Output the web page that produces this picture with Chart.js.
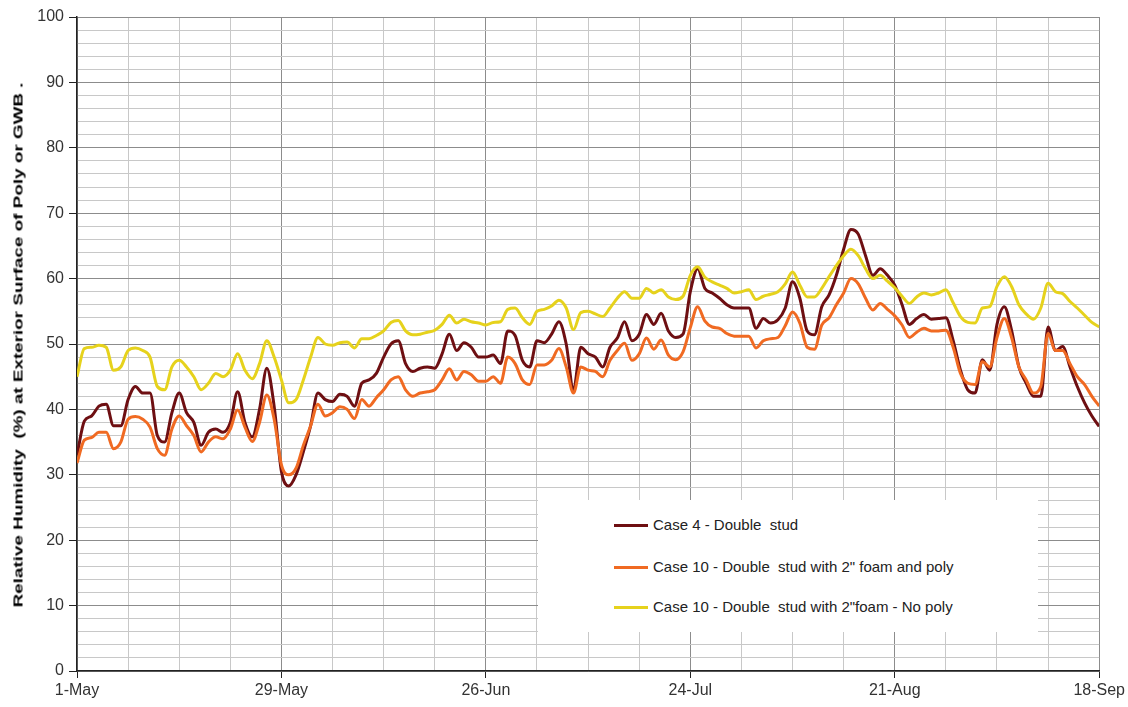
<!DOCTYPE html>
<html>
<head>
<meta charset="utf-8">
<script src="https://cdn.jsdelivr.net/npm/chart.js@4/dist/chart.umd.min.js"></script>
<style>
  body { margin: 0; background: #fff; font-family: "Liberation Sans", Arial, sans-serif; }
  #wrap { position: relative; width: 1128px; height: 707px; }
  #legend {
    position: absolute; left: 538px; top: 500px; width: 500px; height: 132px;
    background: #fff;
  }
  .item { position: absolute; left: 76px; height: 16px; font-size: 15px; color: #222; white-space: pre; }
  .item span.sw { display: inline-block; width: 34px; height: 3px; vertical-align: middle; margin-right: 5px; position: relative; top: -1px; }
  #ytitle {
    position: absolute; left: 18px; top: 345px;
    font-size: 13px; font-weight: bold; color: #000; white-space: pre;
    transform: translate(-50%, -50%) rotate(-90deg) scaleX(1.45);
  }
</style>
</head>
<body>
<div id="wrap">
  <canvas id="chart"></canvas>
  <div id="legend"></div>
  <div id="ytitle">Relative Humidity  (%) at Exterior Surface of Poly or GWB .</div>
</div>
<script>
// day 0 = 1-May, one value per day up to 18-Sep (day 140)
const dateLabels = ['1-May', '29-May', '26-Jun', '24-Jul', '21-Aug', '18-Sep'];

const seriesNames = [
    'Case 4 - Double  stud',
    'Case 10 - Double  stud with 2" foam and poly',
    'Case 10 - Double  stud with 2"foam - No poly'
];

const case4 = [
    33, 38.2, 39, 40.5, 40.8, 37.5, 37.5, 41.5, 43.5, 42.5,
    42.5, 36, 35, 39.5, 42.5, 39.5, 38, 34.5, 36.5, 37,
    36.5, 38, 42.7, 38, 35.8, 40, 46.3, 40.5, 30.5, 28.3,
    30, 33.5, 37.5, 42.5, 41.5, 41.2, 42.3, 42, 40.5, 44,
    44.5, 45.5, 48, 50, 50.5, 47, 45.8, 46.3, 46.5, 46.3,
    48.5, 51.5, 49, 50.2, 49.5, 48, 48, 48.3, 47, 52,
    51.3, 47.5, 46.5, 50.5, 50.2, 51.5, 53.4, 50, 43, 49.5,
    48.5, 48, 46.5, 49.5, 50.9, 53.4, 50.5, 51.5, 54.5, 53,
    54.7, 52, 51, 51.5, 58, 61.5, 58.5, 57.8, 57, 56,
    55.5, 55.5, 55.5, 52.4, 53.9, 53.2, 53.7, 55.5, 59.5, 57,
    52, 51.4, 55.7, 57.5, 60.5, 64.5, 67.5, 66.8, 63.5, 60.5,
    61.5, 60.5, 59, 56, 53, 53.9, 54.5, 53.8, 53.9, 54,
    50.5, 46, 43, 42.5, 47.6, 46, 53, 55.7, 52.1, 46.5,
    44, 42, 42, 52.6, 49, 49.6, 46.5, 43.5, 41, 39,
    37.4
];

const case10Poly = [
    31.8, 35.3, 35.7, 36.5, 36.5, 34, 35, 38.5, 38.9, 38.5,
    37.3, 34, 33, 37, 39, 37.5, 36, 33.5, 35, 35.8,
    35.5, 37, 39.9, 37.3, 35.1, 38, 42.2, 38.5, 31.5, 30,
    31, 34.5, 37.5, 40.8, 39, 39.5, 40.4, 40, 38.6, 41.5,
    40.5, 41.8, 43, 44.5, 45, 43, 42, 42.5, 42.7, 43,
    44.5, 46.2, 44.5, 45.8, 45.3, 44.3, 44.3, 45, 44, 48,
    47, 44.5, 43.8, 46.8, 46.8, 47.5, 49.3, 46.5, 42.5, 46.5,
    46, 45.8, 45, 47.5, 49, 50.1, 47.5, 48.5, 50.9, 49.2,
    50.6, 48.3, 47.6, 48.8, 52.5, 55.7, 53.5, 52.6, 52.4, 51.6,
    51.2, 51.2, 51.2, 49.4, 50.5, 50.8, 51, 52.8, 54.9, 53.2,
    49.5, 49.2, 52.9, 54, 56, 57.8, 60, 59.2, 57, 55.2,
    56.2, 55.3, 54.3, 52.9, 51, 51.8, 52.4, 52, 52, 52.1,
    49.5, 45.5, 44, 43.8, 47.3, 46.5, 51, 53.9, 51, 46.5,
    44.5, 42.5, 43.5, 51.6, 49, 49, 47, 45, 43.8, 42,
    40.5
];

const case10NoPoly = [
    45, 49.3, 49.5, 49.8, 49.5, 46, 46.5, 49, 49.4, 49,
    48, 43.5, 43, 46.5, 47.5, 46.5, 45, 43, 44, 45.5,
    45, 46, 48.5, 46, 44.7, 47, 50.5, 48, 44.5, 41,
    41.5, 44.5, 48, 51, 50, 49.8, 50.2, 50.3, 49.4, 50.8,
    50.8, 51.3, 52, 53.3, 53.6, 52, 51.4, 51.5, 51.8, 52.1,
    53, 54.4, 53.2, 53.8, 53.4, 53.2, 52.9, 53.3, 53.4, 55.3,
    55.5, 54, 53, 55, 55.3, 55.8, 56.7, 55.5, 52.2, 54.8,
    55, 54.6, 54.2, 55.5, 57, 58, 57, 57, 58.5, 57.8,
    58.3, 57.2, 56.8, 57.3, 60.5, 61.8, 60.2, 59.5, 59, 58.5,
    57.8, 58, 58.3, 56.8, 57.3, 57.6, 58, 59.2, 61, 59,
    57.2, 57.2, 58.5, 60.3, 62, 63.5, 64.5, 63.5, 61.5, 60,
    60.5, 59.6, 58.6, 57.3, 56.2, 57.2, 57.8, 57.5, 57.8, 58.3,
    56.3, 54.2, 53.3, 53.2, 55.5, 55.7, 58.8, 60.3, 58.8, 56,
    54.6, 53.8, 55.5, 59.3, 58, 57.7, 56.5, 55.5, 54.4, 53.3,
    52.6
];

const seriesColors = ['#6e0f12', '#f06a22', '#e6d21c'];

function toPoints(arr) {
    return arr.map((v, i) => ({ x: i, y: v }));
}

const allSeries = [case4, case10Poly, case10NoPoly];

const datasets = allSeries.map((arr, i) => ({
    label: seriesNames[i],
    data: toPoints(arr),
    borderColor: seriesColors[i],
    backgroundColor: seriesColors[i],
    borderWidth: 3,
    pointRadius: 0,
    cubicInterpolationMode: 'monotone',
    fill: false,
    order: 2 - i
}));

// 图例（HTML）
const legendBox = document.getElementById('legend');
const rowTops = [16, 58, 98];
seriesNames.forEach((name, i) => {
    const item = document.createElement('div');
    item.className = 'item';
    item.style.top = rowTops[i] + 'px';
    const sw = document.createElement('span');
    sw.className = 'sw';
    sw.style.background = seriesColors[i];
    item.appendChild(sw);
    item.appendChild(document.createTextNode(name));
    legendBox.appendChild(item);
});

const tickFont = { family: '"Liberation Sans", Arial, sans-serif', size: 16 };

new Chart(document.getElementById('chart').getContext('2d'), {
    type: 'line',
    data: { datasets: datasets },
    options: {
        responsive: true,
        maintainAspectRatio: false,
        animation: false,
        layout: { padding: { left: 0, top: 17, right: 27, bottom: 0 } },
        plugins: {
            legend: { display: false },
            tooltip: { enabled: false }
        },
        scales: {
            x: {
                type: 'linear',
                min: 0,
                max: 140,
                afterFit: function(scale) { scale.height = 36; },
                ticks: {
                    stepSize: 7,
                    autoSkip: false,
                    maxRotation: 0,
                    padding: 3,
                    color: '#333',
                    font: tickFont,
                    callback: function(v) {
                        return v % 28 === 0 ? dateLabels[v / 28] : '';
                    }
                },
                grid: {
                    color: ctx => (ctx.tick && ctx.tick.value % 28 === 0) ? '#8c8c8c' : '#c8c8c8',
                    tickColor: ctx => (ctx.tick && ctx.tick.value % 28 === 0) ? '#222' : 'rgba(0,0,0,0)',
                    tickLength: 7
                },
                border: { color: '#222', width: 1.5 }
            },
            y: {
                min: 0,
                max: 100,
                afterFit: function(scale) { scale.width = 77; },
                ticks: {
                    stepSize: 2,
                    autoSkip: false,
                    padding: 5,
                    color: '#333',
                    font: tickFont,
                    callback: function(v) {
                        return v % 10 === 0 ? String(v) : '';
                    }
                },
                grid: {
                    color: ctx => (ctx.tick && ctx.tick.value % 10 === 0) ? '#8c8c8c' : '#c8c8c8',
                    tickColor: ctx => (ctx.tick && ctx.tick.value % 10 === 0) ? '#222' : 'rgba(0,0,0,0)',
                    tickLength: 8
                },
                border: { color: '#222', width: 1.5 }
            }
        }
    }
});
</script>
</body>
</html>
